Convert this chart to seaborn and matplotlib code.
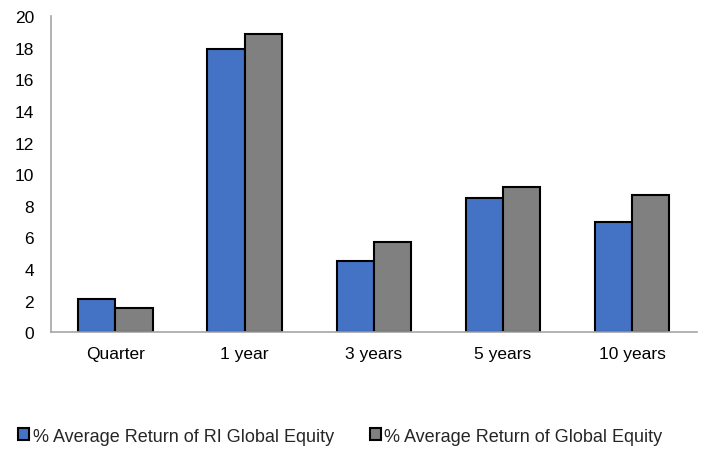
import pandas as pd
import matplotlib.pyplot as plt
import seaborn as sns

periods = ['Quarter', '1 year', '3 years', '5 years', '10 years']
ri_global = [2.1, 17.9, 4.5, 8.5, 7.0]
global_eq = [1.5, 18.9, 5.7, 9.2, 8.7]
series_names = ['% Average Return of RI Global Equity', '% Average Return of Global Equity']

df = pd.DataFrame({
    'period': periods * 2,
    'value': ri_global + global_eq,
    'series': [series_names[0]] * 5 + [series_names[1]] * 5,
})

sns.set_style('white')
plt.rcParams['font.family'] = ['Liberation Sans', 'DejaVu Sans']

fig = plt.figure(figsize=(7.06, 4.52), dpi=100)
ax = fig.add_axes([0.072, 0.263, 0.915, 0.699])

sns.barplot(data=df, x='period', y='value', hue='series', order=periods,
            palette=['#4472C4', '#808080'], saturation=1, edgecolor='black',
            linewidth=1.5, width=0.575, ax=ax)

ax.set_ylim(0, 20)
ax.set_yticks(range(0, 21, 2))
ax.set_xlabel('')
ax.set_ylabel('')
ax.tick_params(axis='both', length=0, labelsize=12.5, colors='black')
ax.tick_params(axis='x', pad=10)
ax.tick_params(axis='y', pad=12)
for s in ['top', 'right']:
    ax.spines[s].set_visible(False)
for s in ['left', 'bottom']:
    ax.spines[s].set_color('#A6A6A6')
    ax.spines[s].set_linewidth(1.2)

ax.legend_.remove()
handles, labels = ax.get_legend_handles_labels()
fig.legend(handles, labels, loc='center', bbox_to_anchor=(0.482, 0.033), ncol=2,
           frameon=False, fontsize=13, handlelength=0.6, handleheight=0.6,
           handletextpad=0.2, columnspacing=2.0)

plt.savefig('out.png', dpi=100)
